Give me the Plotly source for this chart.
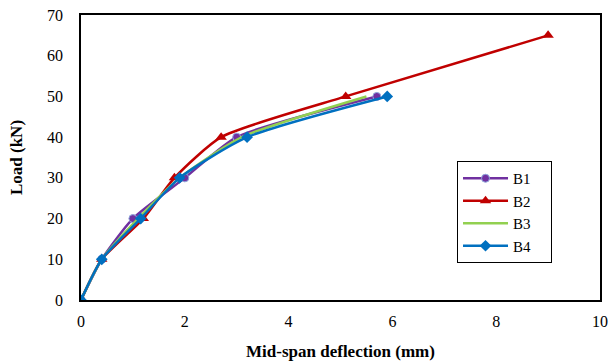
import plotly.graph_objects as go

b1_x = [0, 0.4, 1.0, 2.0, 3.0, 5.7]
b1_y = [0, 10, 20, 30, 40, 50]
b2_x = [0, 0.4, 1.2, 1.8, 2.7, 5.1, 9.0]
b2_y = [0, 10, 20, 30, 40, 50, 65]
b3_x = [0, 0.4, 1.1, 1.9, 3.1, 5.5]
b3_y = [0, 10, 20, 30, 40, 50]
b4_x = [0, 0.4, 1.15, 1.9, 3.2, 5.9]
b4_y = [0, 10, 20, 30, 40, 50]
series_names = ["B1", "B2", "B3", "B4"]

FONT = "Liberation Serif"
PAD = "\u00a0" * 4

fig = go.Figure()
fig.add_trace(go.Scatter(x=b1_x, y=b1_y, name=series_names[0] + PAD, mode="lines+markers",
                         line=dict(color="#7030A0", width=2.5, shape="spline", smoothing=0.6),
                         marker=dict(symbol="circle", size=8, color="#7030A0",
                                     line=dict(color="#8FA8DC", width=1))))
fig.add_trace(go.Scatter(x=b2_x, y=b2_y, name=series_names[1] + PAD, mode="lines+markers",
                         line=dict(color="#C00000", width=2.5, shape="spline", smoothing=0.6),
                         marker=dict(symbol="triangle-up", size=10, color="#C00000")))
fig.add_trace(go.Scatter(x=b3_x, y=b3_y, name=series_names[2] + PAD, mode="lines",
                         line=dict(color="#92D050", width=2.5, shape="spline", smoothing=0.6)))
fig.add_trace(go.Scatter(x=b4_x, y=b4_y, name=series_names[3] + PAD, mode="lines+markers",
                         line=dict(color="#0070C0", width=2.5, shape="spline", smoothing=0.6),
                         marker=dict(symbol="diamond", size=9, color="#0070C0")))

fig.update_layout(
    width=611, height=363,
    margin=dict(l=81, r=11, t=15, b=63, autoexpand=False),
    plot_bgcolor="white", paper_bgcolor="white",
    font=dict(family=FONT, size=16, color="black"),
    showlegend=True,
    legend=dict(x=0.7245, y=0.4877, xanchor="left", yanchor="top",
                bordercolor="black", borderwidth=1, bgcolor="white",
                font=dict(family=FONT, size=15, color="black"),
                tracegroupgap=0, itemwidth=45),
    xaxis=dict(range=[0, 10], dtick=2, showgrid=False, zeroline=False,
               showline=True, linecolor="black", linewidth=1.5, mirror=True,
               ticks="", tickfont=dict(family=FONT, size=16), automargin=False,
               ticklabelstandoff=6,
               title=dict(text="<b>Mid-span deflection (mm)</b>", standoff=16,
                          font=dict(family=FONT, size=17))),
    yaxis=dict(range=[0, 70], dtick=10, showgrid=False, zeroline=False,
               showline=True, linecolor="black", linewidth=1.5, mirror=True,
               ticks="", tickfont=dict(family=FONT, size=16), automargin=False,
               ticklabelstandoff=13,
               title=dict(text="<b>Load (kN)</b>", standoff=20,
                          font=dict(family=FONT, size=17))),
)

fig.write_html("out.html", config={"displayModeBar": False},
               post_script="document.body.style.margin='0';document.body.style.overflow='hidden';")
